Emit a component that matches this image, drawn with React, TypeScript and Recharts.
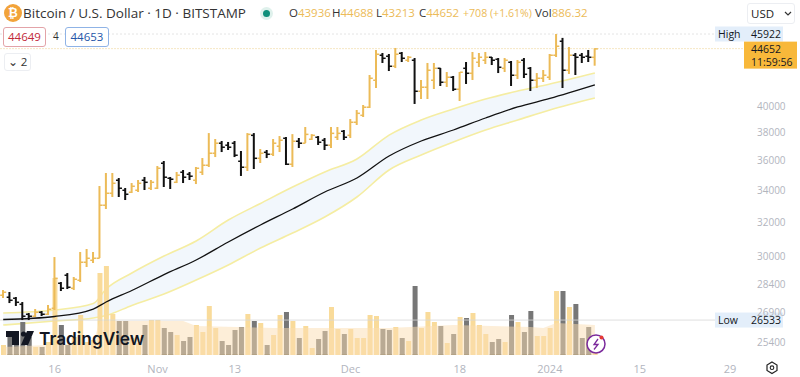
import { Area, Bar, ComposedChart, Line, ReferenceLine, XAxis, YAxis } from 'recharts';

// daily BTCUSD bars, 8 Oct 2023 onward
const opens = [27839, 27732, 27679, 27360, 26842, 26740, 26945, 26842, 27152, 28486, 28928, 28215, 28650, 29657, 29770, 29884, 33084, 33852, 34707, 34048, 33918, 34048, 34707, 34180, 34180, 35858, 34842, 34572, 35245, 35112, 34707, 35245, 35720, 36553, 37263, 37120, 37263, 35995, 35585, 37830, 36200, 36620, 36483, 37048, 37618, 35790, 37404, 37263, 37546, 37690, 37475, 37120, 37690, 38127, 37830, 38790, 39310, 39925, 42045, 44110, 44025, 43188, 44280, 43689, 43689, 41166, 41485, 42045, 43020, 41885, 42288, 41325, 43020, 42610, 43520, 43689, 43940, 43770, 43020, 43520, 42450, 43689, 43020, 42045, 42205, 42288, 44110, 45310, 42859, 44110, 44110, 44025, 43936];
const highs = [28106, 27999, 27732, 27466, 26893, 27100, 26996, 27310, 29940, 28540, 29036, 28817, 30232, 30406, 30232, 34310, 35177, 35177, 34838, 34180, 34507, 34707, 34910, 34707, 35650, 35995, 34910, 35245, 35380, 35245, 35585, 36200, 37975, 37546, 37404, 37333, 37404, 36693, 37975, 37975, 36833, 36763, 37546, 37760, 37690, 37900, 37618, 38420, 37900, 37760, 37618, 38420, 38420, 38200, 39012, 39694, 40077, 42450, 44535, 44280, 44195, 44708, 44365, 44025, 43855, 42045, 43440, 43440, 43020, 42695, 42370, 42695, 43520, 44365, 44280, 44365, 43940, 43855, 43855, 43605, 43689, 43855, 43105, 42610, 42859, 44195, 45922, 45580, 44790, 44280, 44280, 44535, 44688];
const lows = [27679, 27412, 27260, 26534, 26534, 26688, 26740, 26791, 27048, 28052, 28160, 28106, 28543, 29374, 29600, 29884, 32830, 33595, 33595, 33401, 33852, 33918, 34048, 34048, 34114, 34245, 34114, 34507, 34507, 34707, 34440, 35045, 35585, 36270, 36620, 36763, 36270, 34978, 35312, 35447, 35858, 36200, 36343, 36620, 35720, 35585, 36905, 37263, 37475, 37120, 36763, 36905, 37475, 37475, 37618, 38570, 39165, 39847, 41405, 43440, 42775, 43020, 43520, 43520, 40157, 40540, 40540, 41325, 41565, 41485, 41166, 40385, 41725, 42045, 43105, 43355, 43270, 42610, 42695, 41565, 42125, 42205, 41166, 41405, 41885, 42045, 43940, 41405, 42530, 42450, 43440, 43520, 43213];
const closes = [27999, 27572, 27466, 26742, 26740, 26945, 26842, 27100, 28758, 28215, 28269, 28705, 29657, 29884, 29884, 33084, 33852, 34507, 34180, 33788, 34310, 34507, 34572, 34572, 35515, 34910, 34775, 35045, 34910, 34978, 35515, 35720, 36553, 37263, 36977, 36977, 36413, 35585, 37900, 36200, 36553, 36483, 37263, 37475, 35790, 37404, 37263, 37900, 37830, 37333, 37120, 37975, 37975, 37690, 38790, 39460, 39925, 42205, 44195, 43855, 43188, 44195, 43855, 43940, 41166, 41485, 42859, 43020, 41885, 42288, 41325, 42695, 42610, 43855, 43940, 43940, 43689, 43105, 43689, 42450, 43520, 42530, 42045, 42205, 42450, 44110, 44877, 42859, 44110, 43940, 43940, 43940, 44652];
const volumes = [886, 1772, 1063, 2924, 1595, 709, 709, 1152, 6822, 2658, 886, 1595, 3544, 1152, 1329, 7265, 7885, 3633, 3012, 3012, 1506, 1063, 2658, 3101, 3101, 2392, 2038, 1772, 1240, 1595, 2658, 2038, 4341, 2392, 1240, 886, 2215, 2481, 3633, 3012, 2835, 886, 1772, 3544, 3810, 3012, 1506, 2569, 620, 1418, 2126, 4253, 2304, 1861, 2304, 1506, 1506, 3544, 3455, 2304, 2215, 2481, 1506, 1240, 6113, 2392, 3810, 2924, 2569, 1063, 1861, 3367, 3278, 3721, 2658, 1861, 1152, 1418, 1152, 3544, 2924, 2038, 3898, 1683, 1683, 2392, 5670, 5670, 4253, 4519, 1506, 2481, 886];

const bandDays = [0, 8, 14, 16, 20, 25, 30, 35, 40, 45, 50, 55, 60, 65, 70, 75, 80, 85, 92];
const upperBand = [26893, 27048, 27386, 28160, 29036, 29998, 30880, 32144, 33180, 34240, 35245, 36133, 37830, 38940, 39771, 40540, 41166, 41725, 42610];
const midLine = [26560, 26715, 27100, 27466, 28079, 28950, 29770, 30815, 31839, 32830, 33918, 34842, 36343, 37404, 38200, 39090, 39925, 40580, 41645];
const lowerBand = [26280, 26483, 26637, 26766, 27286, 27892, 28650, 29490, 30464, 31352, 32330, 33595, 35380, 36413, 37333, 38200, 38940, 39694, 40618];

const volMaDays = [0, 7, 14, 15, 28, 30, 42, 60, 70, 82, 84, 86, 92];
const volMa = [709, 886, 1063, 3012, 3012, 2569, 2392, 2392, 2658, 2481, 2392, 2835, 2658];

const priceTicks = [25400, 26900, 28400, 30000, 32000, 34000, 36000, 38000, 40000];
const timeTicks = ['2023-10-16', '2023-11-01', '2023-11-13', '2023-12-01', '2023-12-18', '2024-01-01', '2024-01-15', '2024-01-29'];
const timeLabels = ['16', 'Nov', '13', 'Dec', '18', '2024', '15', '29'];

const TOTAL_DAYS = 116;
const UP = '#ecbb58';
const DOWN = '#111111';
const FONT = '"Open Sans", sans-serif';

const data = Array.from({ length: TOTAL_DAYS }, (_, i) => {
  const day = new Date(Date.UTC(2023, 9, 8 + i)).toISOString().slice(0, 10);
  const row: any = { day };
  if (i < opens.length) {
    row.open = opens[i];
    row.close = closes[i];
    row.range = [lows[i], highs[i]];
    row.volume = volumes[i];
    row.up = closes[i] >= opens[i];
  }
  const b = bandDays.indexOf(i);
  if (b >= 0) {
    row.upper = upperBand[b];
    row.mid = midLine[b];
    row.lower = lowerBand[b];
    row.band = [lowerBand[b], upperBand[b]];
  }
  const m = volMaDays.indexOf(i);
  if (m >= 0) row.volMa = volMa[m];
  return row;
});

const RangeBar = (p: any) => (
  <rect x={p.x} y={p.y} width={p.width} height={p.height} fill={p.payload.up ? UP : DOWN} />
);

const VolumeBar = (p: any) => {
  const up = p.payload.up;
  return (
    <g>
      <rect x={p.x} y={p.y} width={p.width} height={p.height} fill={up ? '#f9db9a' : '#777777'} />
      {!up && <rect x={p.x} y={p.y + p.height - 1} width={p.width} height={1} fill="#6b6658" />}
    </g>
  );
};

const OpenTick = (p: any) => {
  if (p.cy == null || p.payload.open == null) return <g key={p.key} />;
  return <rect key={p.key} x={p.cx - 3} y={p.cy - 0.5} width={3} height={1.5} fill={p.payload.up ? UP : DOWN} />;
};

const CloseTick = (p: any) => {
  if (p.cy == null || p.payload.close == null) return <g key={p.key} />;
  return <rect key={p.key} x={p.cx} y={p.cy - 0.5} width={3} height={1.5} fill={p.payload.up ? UP : DOWN} />;
};

const PriceTag = ({ viewBox, name, value }: any) => (
  <g fontFamily={FONT} fontSize={10.5} fill="#131722">
    <rect x={715} y={viewBox.y - 7.5} width={68} height={15} fill="#e3eefa" />
    <text x={718} y={viewBox.y + 4}>{name}</text>
    <text x={751} y={viewBox.y + 4}>{value}</text>
  </g>
);

const LastTag = ({ viewBox }: any) => (
  <g fontFamily={FONT} fontSize={10.5} fill="#131722">
    <rect x={744} y={viewBox.y - 7} width={53} height={27} fill="#f8b83a" />
    <text x={751} y={viewBox.y + 4}>44652</text>
    <text x={751} y={viewBox.y + 17}>11:59:56</text>
  </g>
);

const legend: [string, string, number][] = [
  ['O', '43936', 289],
  ['H', '44688', 332],
  ['L', '43213', 376],
  ['C', '44652', 419],
];

const boxStyle: any = { position: 'absolute', boxSizing: 'border-box', borderRadius: 3, textAlign: 'center', fontSize: 11.5 };

const Overlay = () => (
  <div style={{ position: 'absolute', left: 0, top: 0, width: 800, height: 377, fontFamily: FONT, pointerEvents: 'none' }}>
    <div style={{ position: 'absolute', left: 4, top: 4, width: 18, height: 18, borderRadius: 9, background: '#f2a33a', color: '#fff', textAlign: 'center', fontSize: 12, lineHeight: '18px', fontWeight: 700 }}>₿</div>
    <div style={{ position: 'absolute', left: 23, top: 3, fontSize: 13.5, lineHeight: '20px', color: '#333', whiteSpace: 'nowrap' }}>Bitcoin / U.S. Dollar · 1D · BITSTAMP</div>
    <div style={{ position: 'absolute', left: 260, top: 7, width: 13, height: 13, borderRadius: 7, background: '#dff1ec' }} />
    <div style={{ position: 'absolute', left: 263, top: 10, width: 7, height: 7, borderRadius: 4, background: '#0f8f7a' }} />
    {legend.map(([k, v, x]) => (
      <div key={k} style={{ position: 'absolute', left: x, top: 5, fontSize: 11.5, lineHeight: '16px', color: '#333', whiteSpace: 'nowrap' }}>
        {k}<span style={{ color: '#ecbb58' }}>{v}</span>
      </div>
    ))}
    <div style={{ position: 'absolute', left: 463, top: 5, fontSize: 10.6, lineHeight: '16px', color: '#ecbb58', whiteSpace: 'nowrap' }}>+708 (+1.61%)</div>
    <div style={{ position: 'absolute', left: 535, top: 5, fontSize: 11.5, lineHeight: '16px', color: '#333', whiteSpace: 'nowrap' }}>
      Vol<span style={{ color: '#ecbb58' }}>886.32</span>
    </div>
    <div style={{ ...boxStyle, left: 3, top: 27, width: 43, height: 20, border: '1px solid #e3a3a8', color: '#c22a3a', lineHeight: '18px', background: '#fff' }}>44649</div>
    <div style={{ position: 'absolute', left: 53, top: 29, fontSize: 10, color: '#333' }}>4</div>
    <div style={{ ...boxStyle, left: 65, top: 27, width: 44, height: 20, border: '1px solid #8fb3e6', color: '#2456a8', lineHeight: '18px', background: '#fff' }}>44653</div>
    <div style={{ ...boxStyle, left: 4, top: 53, width: 27, height: 18, border: '1px solid #eceef2', color: '#333', lineHeight: '16px', background: '#fff' }}>⌄ 2</div>
    <div style={{ ...boxStyle, left: 747, top: 3, width: 48, height: 21, border: '1px solid #eceef2', color: '#222', lineHeight: '19px', textAlign: 'left', paddingLeft: 3, background: '#fff' }}>USD</div>
    <svg width={800} height={377} style={{ position: 'absolute', left: 0, top: 0 }}>
      <path d="M785 12 l3 3 l3 -3" fill="none" stroke="#333" strokeWidth={1.2} />
      <path d="M6 331 h13 v14 h-7 v-8 h-6 z" fill="#131722" />
      <circle cx={23.5} cy={334} r={2.6} fill="#131722" />
      <path d="M27 331 h7 l-6 14 h-7 z" fill="#131722" />
      <text x={39} y={345} fontFamily="Inter, sans-serif" fontWeight={600} fontSize={17.3} fill="#131722">TradingView</text>
      <circle cx={596} cy={344} r={9} fill="#fff" stroke="#7b2a9c" strokeWidth={1.5} />
      <path d="M598 339 l-4 5.5 h4 l-4 5" fill="none" stroke="#7b2a9c" strokeWidth={1.3} />
      <circle cx={601.5} cy={337.5} r={2} fill="#e53935" />
      <path d="M772 362 l5 3 v5.5 l-5 3 l-5 -3 v-5.5 z" fill="none" stroke="#222" strokeWidth={1.2} />
      <circle cx={772} cy={367.7} r={1.8} fill="none" stroke="#222" strokeWidth={1.1} />
    </svg>
  </div>
);

export default function App() {
  return (
    <div style={{ position: 'absolute', left: 0, top: 0, width: 800, height: 377, background: '#fff', overflow: 'hidden' }}>
      <ComposedChart width={800} height={377} data={data} margin={{ top: 0, right: 0, bottom: 0, left: 0 }}>
        <XAxis
          xAxisId="p"
          dataKey="day"
          ticks={timeTicks}
          interval={0}
          height={22}
          axisLine={false}
          tickLine={false}
          tickMargin={4}
          tick={{ fill: '#b2b5be', fontSize: 11, fontFamily: FONT }}
          tickFormatter={(d: string) => timeLabels[timeTicks.indexOf(d)] ?? ''}
        />
        <XAxis xAxisId="v" dataKey="day" hide />
        <YAxis
          yAxisId="price"
          orientation="right"
          scale="log"
          domain={[24813, 49016]}
          ticks={priceTicks}
          interval={0}
          width={54}
          axisLine={false}
          tickLine={false}
          tickMargin={5}
          tick={{ fill: '#b2b5be', fontSize: 10, fontFamily: FONT, textAnchor: 'start' }}
        />
        <YAxis yAxisId="vol" hide domain={[0, 31453]} />

        <Area zIndex={100} type="monotone" xAxisId="p" yAxisId="price" dataKey="band" stroke="none" fill="#f2f7fc" fillOpacity={1} connectNulls isAnimationActive={false} activeDot={false} />
        <Line zIndex={200} type="monotone" xAxisId="p" yAxisId="price" dataKey="upper" stroke="#f5eda2" strokeWidth={1.6} dot={false} activeDot={false} connectNulls isAnimationActive={false} />
        <Line zIndex={200} type="monotone" xAxisId="p" yAxisId="price" dataKey="lower" stroke="#f5eda2" strokeWidth={1.6} dot={false} activeDot={false} connectNulls isAnimationActive={false} />

        <Bar zIndex={300} xAxisId="v" yAxisId="vol" dataKey="volume" barSize={5} shape={VolumeBar} isAnimationActive={false} />
        <Area zIndex={350} xAxisId="v" yAxisId="vol" dataKey="volMa" stroke="none" fill="#fbddb1" fillOpacity={0.5} connectNulls isAnimationActive={false} activeDot={false} />

        <ReferenceLine zIndex={360} xAxisId="p" yAxisId="price" y={45922} stroke="#e4e4e4" strokeDasharray="2 2" label={<PriceTag name="High" value="45922" />} />
        <ReferenceLine zIndex={360} xAxisId="p" yAxisId="price" y={26533} stroke="#d6d6d6" strokeWidth={0.8} label={<PriceTag name="Low" value="26533" />} />
        <ReferenceLine zIndex={360} xAxisId="p" yAxisId="price" y={44652} stroke="#f6e7c4" strokeDasharray="2 1" label={<LastTag />} />

        <Line zIndex={400} type="monotone" xAxisId="p" yAxisId="price" dataKey="mid" stroke="#111111" strokeWidth={1.3} dot={false} activeDot={false} connectNulls isAnimationActive={false} />

        <Bar zIndex={500} xAxisId="p" yAxisId="price" dataKey="range" barSize={2} shape={RangeBar} isAnimationActive={false} />
        <Line zIndex={510} xAxisId="p" yAxisId="price" dataKey="open" stroke="none" dot={OpenTick} activeDot={false} isAnimationActive={false} />
        <Line zIndex={510} xAxisId="p" yAxisId="price" dataKey="close" stroke="none" dot={CloseTick} activeDot={false} isAnimationActive={false} />
      </ComposedChart>
      <Overlay />
    </div>
  );
}
